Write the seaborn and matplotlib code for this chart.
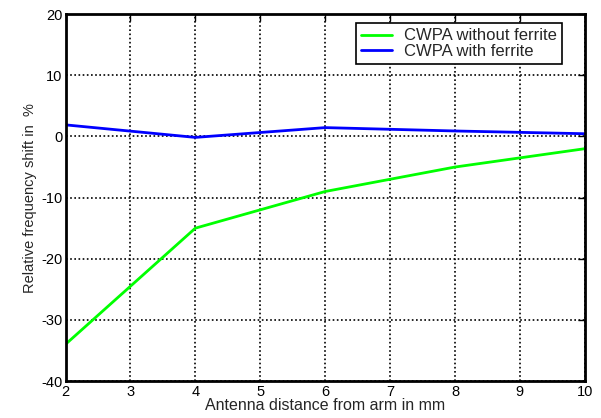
import pandas as pd
import matplotlib
matplotlib.use("Agg")
import matplotlib.pyplot as plt
import seaborn as sns

# Values
distance = [2, 4, 6, 8, 10]
shift_without = [-34, -15, -9, -5, -2]
shift_with = [1.9, -0.15, 1.45, 0.9, 0.45]
series_names = ['CWPA without ferrite', 'CWPA with ferrite']
x_ticks = [2, 3, 4, 5, 6, 7, 8, 9, 10]
y_ticks = [-40, -30, -20, -10, 0, 10, 20]

df = pd.DataFrame({
    'Distance': distance * 2,
    'Shift': shift_without + shift_with,
    'Series': [series_names[0]] * len(distance) + [series_names[1]] * len(distance),
})

sns.set_style('white')
plt.rcParams['font.family'] = ['Liberation Sans', 'DejaVu Sans']
plt.rcParams['axes.unicode_minus'] = False

fig = plt.figure(figsize=(6.01, 4.18), dpi=100)
ax = fig.add_axes([0.109, 0.0885, 0.864, 0.8775])

sns.lineplot(data=df, x='Distance', y='Shift', hue='Series',
             palette=['#00ff00', '#0000ff'], linewidth=2, ax=ax)

ax.set_xlim(2, 10)
ax.set_ylim(-40, 20)
ax.set_xticks(x_ticks)
ax.set_yticks(y_ticks)
ax.grid(True, color='black', linestyle=(0, (1, 1.5)), linewidth=1.2)
ax.tick_params(direction='in', top=True, right=True, length=5, width=1,
               labelsize=10.5, colors='black')
ax.tick_params(axis='y', pad=2)
ax.tick_params(axis='x', pad=3)
for s in ax.spines.values():
    s.set_color('black')
    s.set_linewidth(2)

ax.set_xlabel('Antenna distance from arm in mm', fontsize=11.5, labelpad=-1)
ax.set_ylabel('Relative frequency shift in  %', fontsize=10.5, labelpad=3)

leg = ax.legend(loc='upper right', bbox_to_anchor=(0.956, 0.975), fontsize=12,
                frameon=True, fancybox=False, edgecolor='black', framealpha=1,
                borderpad=0.3, handlelength=1.9, handletextpad=0.7,
                labelspacing=0.05, borderaxespad=0)
leg.get_frame().set_linewidth(1.2)
leg.set_title(None)

fig.savefig('out.png', dpi=100)
